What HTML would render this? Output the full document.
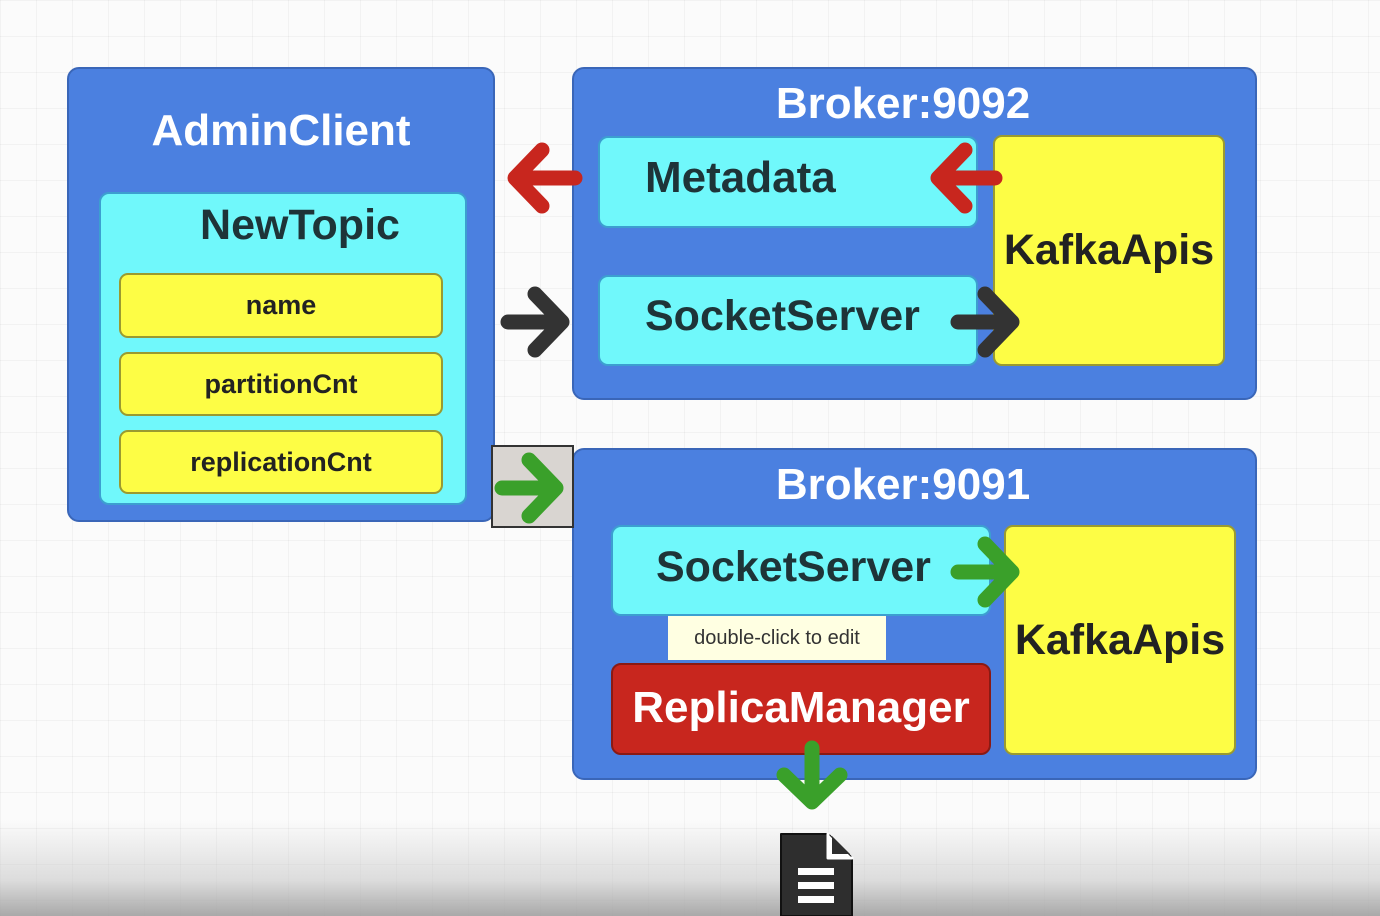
<!DOCTYPE html>
<html><head><meta charset="utf-8"><style>
*{margin:0;padding:0;box-sizing:border-box}
body{width:1380px;height:916px;overflow:hidden;position:relative;font-family:"Liberation Sans",sans-serif;font-weight:bold;
background:
linear-gradient(to bottom,rgba(255,255,255,0) 0,rgba(255,255,255,0) 820px,rgba(200,200,200,0.6) 880px,rgba(160,160,160,0.9) 916px),
linear-gradient(to right,rgba(0,0,0,0.035) 1px,transparent 1px) 0 0/36px 36px,
linear-gradient(to bottom,rgba(0,0,0,0.035) 1px,transparent 1px) 0 0/36px 36px,#fbfbfb}
.b{position:absolute;border-radius:12px}
.blue{background:#4b80e0;border:2px solid #3a66b8}
.cy{background:#70f8fb;border:2px solid #3c9fd0;border-radius:10px}
.ye{background:#fdfd45;border:2px solid #9a9a30;border-radius:9px;display:flex;align-items:center;justify-content:center;color:#222;font-size:27px}
.t{position:absolute;white-space:nowrap}
.w{color:#fff}
.k{color:#1e3438}
</style></head><body>
<div class="b blue" style="left:67px;top:67px;width:428px;height:455px"></div>
<div class="t w" style="left:67px;width:428px;text-align:center;top:106px;font-size:44px">AdminClient</div>
<div class="b cy" style="left:99px;top:192px;width:368px;height:313px"></div>
<div class="t k" style="left:116px;width:368px;text-align:center;top:201px;font-size:43px">NewTopic</div>
<div class="b ye" style="left:119px;top:273px;width:324px;height:65px">name</div>
<div class="b ye" style="left:119px;top:352px;width:324px;height:64px">partitionCnt</div>
<div class="b ye" style="left:119px;top:430px;width:324px;height:64px">replicationCnt</div>

<div class="b blue" style="left:572px;top:67px;width:685px;height:333px"></div>
<div class="t w" style="left:572px;width:662px;text-align:center;top:79px;font-size:44px">Broker:9092</div>
<div class="b cy" style="left:598px;top:136px;width:380px;height:92px"></div>
<div class="t k" style="left:645px;top:153px;font-size:44px">Metadata</div>
<div class="b cy" style="left:598px;top:275px;width:380px;height:91px"></div>
<div class="t k" style="left:645px;top:292px;font-size:43px">SocketServer</div>
<div class="b ye" style="left:993px;top:135px;width:232px;height:231px;font-size:43px">KafkaApis</div>

<div class="b blue" style="left:572px;top:448px;width:685px;height:332px"></div>
<div class="t w" style="left:572px;width:662px;text-align:center;top:460px;font-size:44px">Broker:9091</div>
<div class="b cy" style="left:611px;top:525px;width:380px;height:91px"></div>
<div class="t k" style="left:656px;top:543px;font-size:43px">SocketServer</div>
<div class="b ye" style="left:1004px;top:525px;width:232px;height:230px;font-size:43px">KafkaApis</div>
<div class="b" style="left:611px;top:663px;width:380px;height:92px;background:#c8261e;border:2px solid #8a1a14;border-radius:10px"></div>
<div class="t w" style="left:611px;width:380px;text-align:center;top:683px;font-size:44px">ReplicaManager</div>
<div class="t" style="left:668px;top:616px;width:218px;height:44px;background:#ffffe2;color:#333;font-weight:normal;font-size:20px;line-height:44px;text-align:center">double-click to edit</div>

<div class="t" style="left:491px;top:445px;width:83px;height:83px;background:#d9d5d1;border:2px solid #333"></div>

<svg width="1380" height="916" style="position:absolute;left:0;top:0" fill="none" stroke-linecap="round" stroke-linejoin="round">
<g stroke="#c8261e" stroke-width="15">
<path d="M575 178H515M542 150L515 178L542 206"/>
<path d="M995 178H938M965 150L938 178L965 206"/>
</g>
<g stroke="#333" stroke-width="15">
<path d="M508 322H562M535 294L562 322L535 350"/>
<path d="M958 322H1012M985 294L1012 322L985 350"/>
</g>
<g stroke="#3aa02a" stroke-width="15">
<path d="M502 488H556M529 460L556 488L529 516"/>
<path d="M958 572H1012M985 544L1012 572L985 600"/>
<path d="M812 748V802M784 775L812 802L840 775"/>
</g>
<path d="M781 834H828L852 858V916H781Z" fill="#2e2e2e" stroke="#111" stroke-width="2"/>
<path d="M828 834V858H852" fill="#fff" stroke="#fff" stroke-width="3"/>
<path d="M832 836L850 854H832Z" fill="#2e2e2e"/>
<g fill="#fff"><rect x="798" y="868" width="36" height="7"/><rect x="798" y="882" width="36" height="7"/><rect x="798" y="896" width="36" height="7"/></g>
</svg>
</body></html>
